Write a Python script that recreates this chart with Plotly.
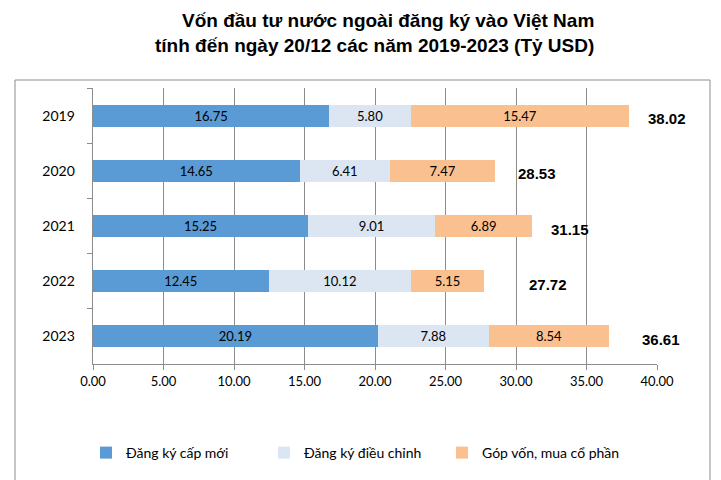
import plotly.graph_objects as go

years = ["2019", "2020", "2021", "2022", "2023"]
dang_ky_cap_moi = [16.75, 14.65, 15.25, 12.45, 20.19]
dang_ky_dieu_chinh = [5.80, 6.41, 9.01, 10.12, 7.88]
gop_von = [15.47, 7.47, 6.89, 5.15, 8.54]
totals = [38.02, 28.53, 31.15, 27.72, 36.61]
series_names = ["Đăng ký cấp mới", "Đăng ký điều chỉnh", "Góp vốn, mua cổ phần"]
x_ticks = [0, 5, 10, 15, 20, 25, 30, 35, 40]

colors = ["#5B9BD5", "#DCE6F2", "#FAC090"]
total_xshift = [17, 21, 17, 43, 31]
FONT = "Lato, Carlito, 'Liberation Sans', Arial"

# page body has an 8px default margin; figure is sized to fill the rest of the window
W, H, OFF = 713, 472, 8
L, R, T, B = 93 - OFF, 64, 88 - OFF, 116
PW, PH = W - L - R, H - T - B

fig = go.Figure()
for name, vals, col in zip(series_names, [dang_ky_cap_moi, dang_ky_dieu_chinh, gop_von], colors):
    fig.add_trace(go.Bar(
        y=years, x=vals, name=name, orientation="h",
        marker=dict(color=col, line=dict(width=0)),
        text=[f"{v:.2f}" for v in vals], textposition="inside",
        insidetextanchor="middle",
        textfont=dict(family=FONT, size=13, color="#000000"),
    ))

# category axis: annotation y given as the category's index
for i, (tot, xs) in enumerate(zip(totals, total_xshift)):
    fig.add_annotation(x=tot, y=i, xref="x", yref="y", text=f"<b>{tot:.2f}</b>", showarrow=False,
                       xanchor="left", xshift=xs, yshift=-3,
                       font=dict(family="'Liberation Sans', Arial", size=15, color="#000000"))

fig.add_annotation(xref="paper", yref="paper", x=(596 - 93) / PW, y=1.0, yanchor="bottom",
                   yshift=30, xanchor="right", align="right", showarrow=False,
                   text="<b>Vốn đầu tư nước ngoài đăng ký vào Việt Nam<br>tính đến ngày 20/12 các năm 2019-2023 (Tỷ USD)</b>",
                   font=dict(family="'Liberation Sans', Arial", size=19, color="#000000"))

fig.add_shape(type="rect", xref="paper", yref="paper",
              x0=(15 - 93) / PW, x1=(710 - 93) / PW,
              y0=-0.6, y1=(364 - 80) / PH,
              line=dict(color="#8C8C8C", width=1), layer="below")

fig.update_layout(
    width=W, height=H, barmode="stack", bargap=0.6,
    margin=dict(l=L, r=R, t=T, b=B, autoexpand=False),
    plot_bgcolor="white", paper_bgcolor="white",
    font=dict(family=FONT, size=13, color="#000000"),
    showlegend=True,
    legend=dict(orientation="h", x=-7 / PW, xanchor="left", y=-(453 - 364) / PH, yanchor="middle",
                font=dict(family=FONT, size=14), traceorder="normal",
                entrywidth=133, entrywidthmode="pixels"),
    xaxis=dict(range=[0, 40], tickvals=x_ticks, ticktext=[f"{v:.2f}" for v in x_ticks],
               showgrid=True, gridcolor="#8C8C8C", gridwidth=1,
               showline=True, linecolor="#8C8C8C", linewidth=1,
               ticks="outside", ticklen=5, tickcolor="#8C8C8C",
               zeroline=False, tickfont=dict(size=13)),
    yaxis=dict(type="category", categoryorder="array", categoryarray=years,
               range=[len(years) - 0.5, -0.5], showline=True, linecolor="#8C8C8C", linewidth=1,
               ticks="outside", tickson="boundaries", ticklen=5, tickcolor="#8C8C8C",
               showgrid=False, ticksuffix="    ", tickfont=dict(size=14)),
)

fig.write_html("out.html")
